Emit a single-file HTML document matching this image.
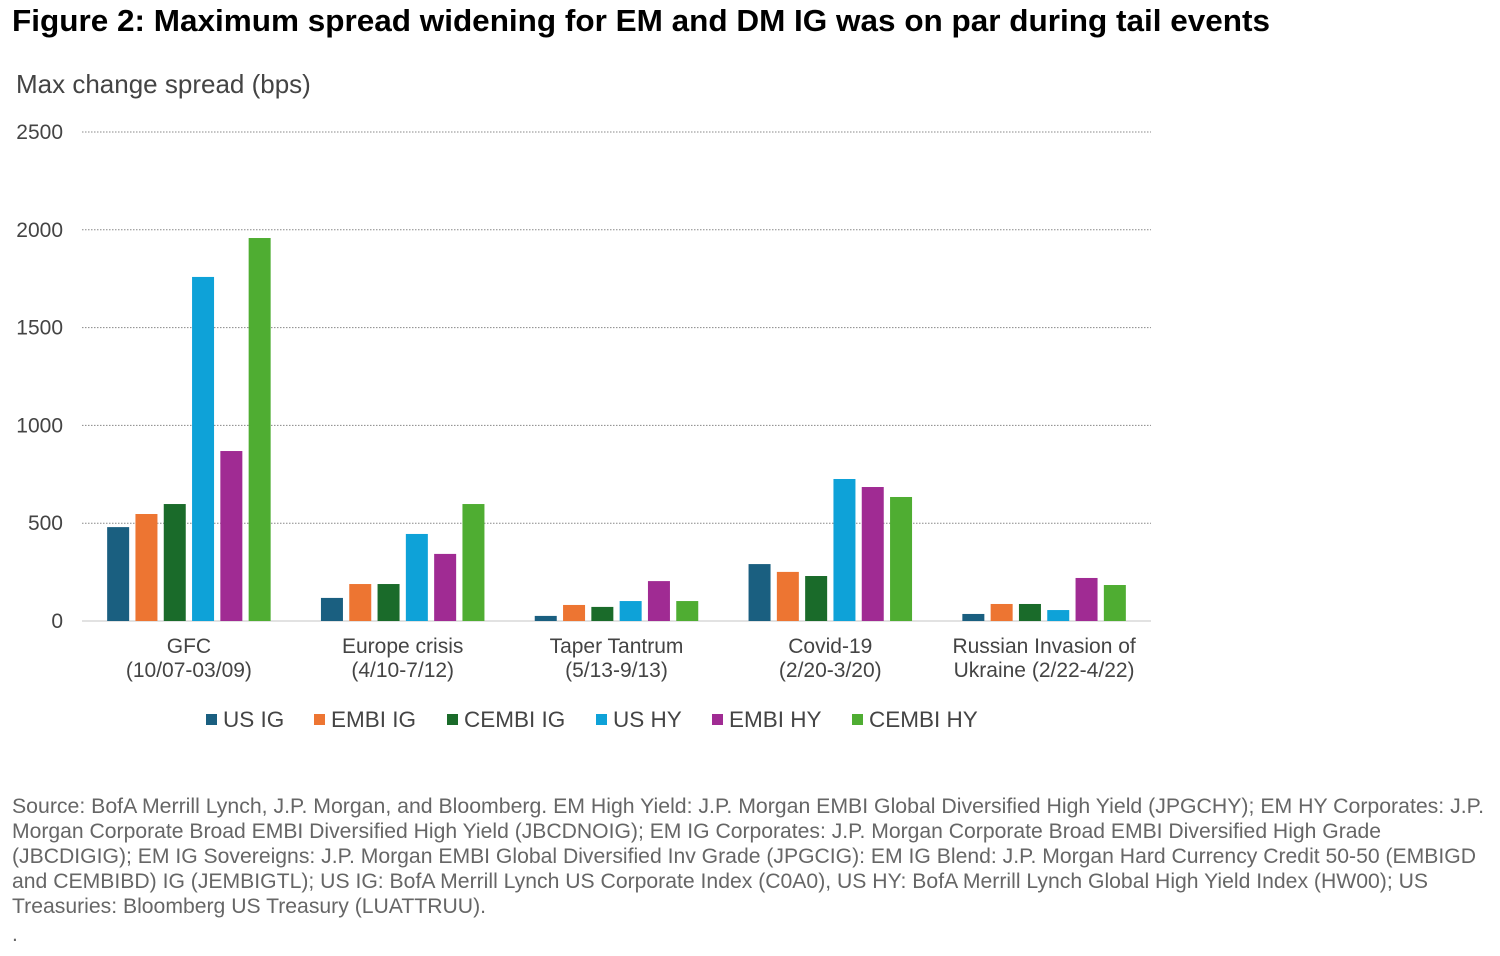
<!DOCTYPE html>
<html><head><meta charset="utf-8"><style>
body{margin:0;background:#fff;font-family:"Liberation Sans",Arial,sans-serif;}
svg text{font-family:"Liberation Sans",Arial,sans-serif;}
</style></head><body>
<svg width="1500" height="951" viewBox="0 0 1500 951">
<text x="12" y="31" font-size="31" font-weight="bold" fill="#000" textLength="1258" lengthAdjust="spacingAndGlyphs">Figure 2: Maximum spread widening for EM and DM IG was on par during tail events</text>
<text x="16" y="93" font-size="26" fill="#444">Max change spread (bps)</text>
<g id="grid"></g><g id="bars"></g><g id="xlabels"></g><g id="legend"></g>
<g font-size="21" fill="#666" lengthAdjust="spacingAndGlyphs">
<text x="12" y="813" textLength="1472" lengthAdjust="spacingAndGlyphs">Source: BofA Merrill Lynch, J.P. Morgan, and Bloomberg. EM High Yield: J.P. Morgan EMBI Global Diversified High Yield (JPGCHY); EM HY Corporates: J.P.</text>
<text x="12" y="838" textLength="1369" lengthAdjust="spacingAndGlyphs">Morgan Corporate Broad EMBI Diversified High Yield (JBCDNOIG); EM IG Corporates: J.P. Morgan Corporate Broad EMBI Diversified High Grade</text>
<text x="12" y="863" textLength="1464" lengthAdjust="spacingAndGlyphs">(JBCDIGIG); EM IG Sovereigns: J.P. Morgan EMBI Global Diversified Inv Grade (JPGCIG): EM IG Blend: J.P. Morgan Hard Currency Credit 50-50 (EMBIGD</text>
<text x="12" y="888" textLength="1416" lengthAdjust="spacingAndGlyphs">and CEMBIBD) IG (JEMBIGTL); US IG: BofA Merrill Lynch US Corporate Index (C0A0), US HY: BofA Merrill Lynch Global High Yield Index (HW00); US</text>
<text x="12" y="913" textLength="474" lengthAdjust="spacingAndGlyphs">Treasuries: Bloomberg US Treasury (LUATTRUU).</text>
<text x="12" y="941">.</text>
</g>
</svg>
<script>
const categories=[["GFC","(10/07-03/09)"],["Europe crisis","(4/10-7/12)"],["Taper Tantrum","(5/13-9/13)"],["Covid-19","(2/20-3/20)"],["Russian Invasion of","Ukraine (2/22-4/22)"]];
const seriesNames=["US IG","EMBI IG","CEMBI IG","US HY","EMBI HY","CEMBI HY"];
const usIG=[480,118,26,291,36];
const embiIG=[547,189,82,251,87];
const cembiIG=[598,189,72,230,87];
const usHY=[1759,445,102,726,56];
const embiHY=[869,343,204,685,220];
const cembiHY=[1958,598,102,634,184];
const yTicks=[0,500,1000,1500,2000,2500];
const colors=["#1a5f80","#ed7532","#1a6b2a","#0ea2d8","#a02b93","#4fad32"];
const series=[usIG,embiIG,cembiIG,usHY,embiHY,cembiHY];
const NS="http://www.w3.org/2000/svg";
const x0=82,x1=1151,y0=621,yTop=132,yMax=2500;
const y=v=>y0-(v/yMax)*(y0-yTop);
const gw=(x1-x0)/categories.length;
const xc=i=>x0+gw*(i+0.5);
function mk(t,a,p){const e=document.createElementNS(NS,t);for(const k in a)e.setAttribute(k,a[k]);p.appendChild(e);return e;}
const grid=document.getElementById('grid');
yTicks.forEach(v=>{
 if(v>0){const l=mk('line',{x1:x0,x2:x1,y1:y(v),y2:y(v),stroke:'#888','stroke-dasharray':'1.5,1.5','stroke-width':1},grid);
 
 }
 const t=mk('text',{x:63,y:y(v)+7,'text-anchor':'end','font-size':21,fill:'#444'},grid);t.textContent=v;
 
 
});
const ax=mk('line',{x1:x0,x2:x1,y1:y0,y2:y0,stroke:'#d9d9d9','stroke-width':1.5},grid);


const bars=document.getElementById('bars');const bw=22,step=28.3;
categories.forEach((c,i)=>{
 series.forEach((s,j)=>{
  const bx=xc(i)+(j-2.5)*step-bw/2;
  const r=mk('rect',{x:bx,y:y(s[i]),width:bw,height:y0-y(s[i]),fill:colors[j]},bars);
  
  
 });
 const t=mk('text',{x:xc(i),y:653,'text-anchor':'middle','font-size':21,fill:'#444'},document.getElementById('xlabels'));
 
 
 c.forEach((ln,k)=>{const ts=mk('tspan',{x:xc(i),dy:k?24:0},t);ts.textContent=ln;});
});
const lg=document.getElementById('legend');
const lx=[206,314,447,596,712,852];
seriesNames.forEach((n,j)=>{
 const g=mk('g',{},lg);
 
 
 mk('rect',{x:lx[j],y:714,width:11,height:11,fill:colors[j]},g);
 const t=mk('text',{x:lx[j]+17,y:727,'font-size':22.5,fill:'#444'},g);t.textContent=n;
});
</script>
</body></html>
